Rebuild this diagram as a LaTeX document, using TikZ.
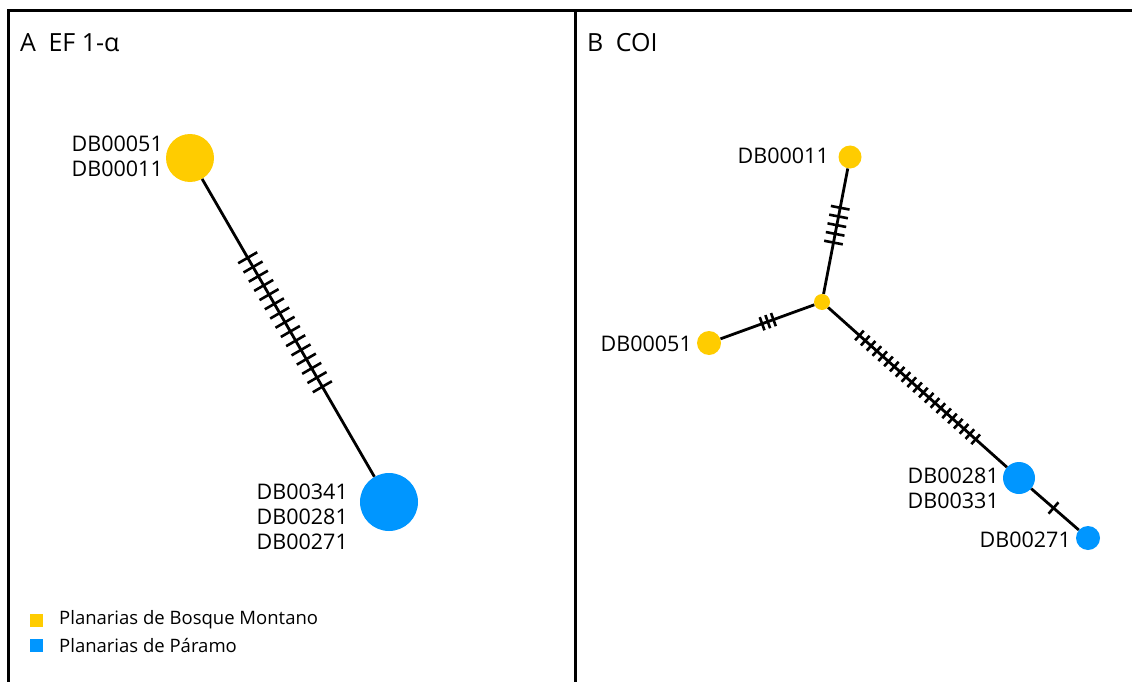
\documentclass[tikz,border=0pt]{standalone}
\usepackage{fontspec}
\setmainfont{Open Sans}
\usetikzlibrary{calc}
\definecolor{bosque}{RGB}{255,204,0}
\definecolor{paramo}{RGB}{0,150,255}
\tikzset{
  frameline/.style={line width=3pt},
  edge/.style={line width=2.8pt},
  tickmark/.style={line width=2.6pt},
  hapy/.style={circle, fill=bosque, draw=none, inner sep=0pt},
  hapb/.style={circle, fill=paramo, draw=none, inner sep=0pt},
  lbl/.style={font=\fontsize{21.5}{25}\selectfont, inner sep=0pt, align=right},
  ttl/.style={font=\fontsize{25}{30}\selectfont, inner sep=0pt},
  leg/.style={font=\fontsize{18.5}{22}\selectfont, inner sep=0pt},
}
\newcommand\edgeticks[6]{%
  \foreach \i in {1,...,#5}{%
    \pgfmathsetmacro\tkpos{#3+(\i-1)*(#4-#3)/max(#5-1,1)}%
    \coordinate (tk) at ($(#1)!\tkpos!(#2)$);
    \draw[tickmark] ($(tk)!#6!90:(#2)$) -- ($(tk)!#6!-90:(#2)$);
  }%
}
\begin{document}
\begin{tikzpicture}[x=1pt,y=-1pt]
\useasboundingbox (0,0) rectangle (1132,682);
% frame
\coordinate (ftl) at (8,11);
\coordinate (ftr) at (1132,11);
\coordinate (fbl) at (8,682);
\coordinate (dt) at (575,11);
\coordinate (db) at (575,682);
\draw[frameline] (fbl) -- (ftl) -- (ftr);
\draw[frameline] (dt) -- (db);
% titles
\node[ttl, anchor=base west] (tA) at (20,52) {A\enspace EF 1-α};
\node[ttl, anchor=base west] (tB) at (587,52) {B\enspace COI};
% ---- panel A
\node[hapy, minimum size=48pt] (a1) at (190,158) {};
\node[hapb, minimum size=58pt] (a2) at (389,502) {};
\draw[edge] (a1) -- (a2);
\edgeticks{a1}{a2}{0.29}{0.665}{15}{11pt}
\node[lbl, anchor=east] (la1) at (163,156) {DB00051\\DB00011};
\node[lbl, anchor=east] (la2) at (348,517) {DB00341\\DB00281\\DB00271};
% legend
\node[fill=bosque, minimum size=13pt, inner sep=0pt] (ly) at (36,620) {};
\node[fill=paramo, minimum size=13pt, inner sep=0pt] (lb) at (36,645) {};
\node[leg, anchor=west] (lty) at (59,620) {Planarias de Bosque Montano};
\node[leg, anchor=west] (ltb) at (59,645) {Planarias de Páramo};
% ---- panel B
\node[hapy, minimum size=16pt] (c) at (822,302) {};
\node[hapy, minimum size=23pt] (b11) at (850,157) {};
\node[hapy, minimum size=24pt] (b51) at (709,343) {};
\node[hapb, minimum size=32pt] (b281) at (1019,478) {};
\node[hapb, minimum size=24pt] (b271) at (1088,538) {};
\draw[edge] (c) -- (b11);
\draw[edge] (c) -- (b51);
\draw[edge] (c) -- (b281);
\draw[edge] (b281) -- (b271);
\edgeticks{c}{b11}{0.41}{0.65}{5}{9.5pt}
\edgeticks{c}{b51}{0.43}{0.53}{3}{7pt}
\edgeticks{c}{b281}{0.19}{0.78}{21}{6.5pt}
\edgeticks{b281}{b271}{0.5}{0.5}{1}{7.5pt}
\node[lbl, anchor=east] (lb11) at (829,156) {DB00011};
\node[lbl, anchor=east] (lb51) at (692,344) {DB00051};
\node[lbl, anchor=east] (lb281) at (999,488) {DB00281\\DB00331};
\node[lbl, anchor=east] (lb271) at (1071,540) {DB00271};
\end{tikzpicture}
\end{document}
